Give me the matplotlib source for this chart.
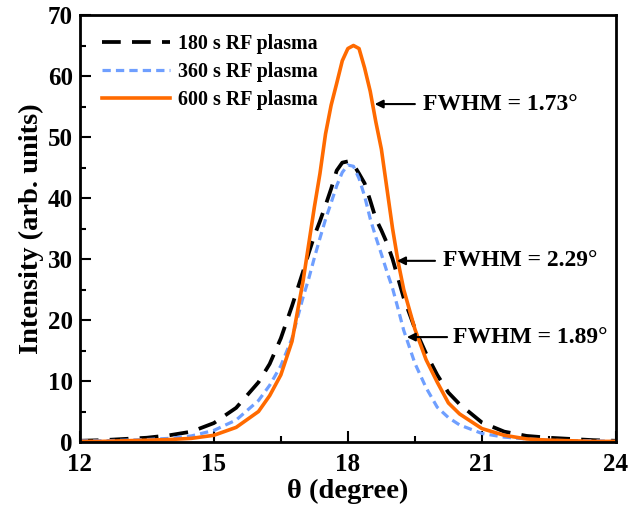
import numpy as np
import matplotlib
matplotlib.use("Agg")
import matplotlib.pyplot as plt
from matplotlib.ticker import MultipleLocator

# values
theta = [12.0, 12.5, 13.0, 13.5, 14.0, 14.5, 15.0, 15.5, 16.0, 16.25, 16.5, 16.75,
         17.0, 17.125, 17.25, 17.375, 17.5, 17.625, 17.75, 17.875, 18.0, 18.125,
         18.25, 18.375, 18.5, 18.625, 18.75, 18.875, 19.0, 19.125, 19.25, 19.5,
         19.75, 20.0, 20.25, 20.5, 21.0, 21.5, 22.0, 22.5, 23.0, 23.5, 24.0]

i_180s = [0.2, 0.3, 0.5, 0.7, 1.1, 1.7, 3.1, 5.6, 9.8, 12.8, 17.0, 22.3,
          28.0, 31.0, 33.8, 36.2, 38.8, 41.5, 44.5, 45.8, 46.0, 45.5,
          44.0, 42.4, 39.6, 36.6, 34.7, 32.6, 30.0, 26.8, 23.6, 18.6,
          14.5, 11.0, 8.1, 6.2, 3.2, 1.7, 1.0, 0.7, 0.5, 0.3, 0.2]

i_360s = [0.2, 0.2, 0.3, 0.4, 0.6, 1.0, 1.9, 3.6, 6.8, 9.3, 12.5, 17.0,
          23.8, 26.8, 30.2, 33.4, 36.5, 39.2, 42.0, 44.2, 45.4, 45.2,
          43.2, 40.3, 36.6, 33.6, 30.8, 27.9, 25.2, 21.8, 18.3, 12.9,
          8.9, 5.7, 4.0, 2.8, 1.4, 0.8, 0.5, 0.3, 0.2, 0.2, 0.1]

i_600s = [0.1, 0.1, 0.2, 0.3, 0.4, 0.6, 1.1, 2.4, 5.0, 7.6, 11.0, 16.5,
          26.5, 32.5, 38.5, 44.0, 50.5, 55.2, 58.8, 62.5, 64.5, 65.0,
          64.5, 61.3, 57.5, 52.5, 48.0, 41.5, 35.0, 29.5, 25.0, 18.5,
          13.5, 9.8, 6.4, 4.6, 2.2, 1.1, 0.5, 0.3, 0.2, 0.1, 0.1]

labels = ["180 s RF plasma", "360 s RF plasma", "600 s RF plasma"]
fwhm_text = ["FWHM = 1.73°", "FWHM = 2.29°", "FWHM = 1.89°"]
# arrow tip (x, y), arrow tail x, text x
fwhm_tip = [(18.60, 55.4), (19.10, 29.7), (19.32, 17.2)]
fwhm_tail = [19.50, 19.95, 20.22]
fwhm_tx = [19.68, 20.13, 20.35]

plt.rcParams['font.family'] = ['Liberation Serif', 'DejaVu Serif']
plt.rcParams['font.weight'] = 'bold'

fig = plt.figure(figsize=(6.38, 5.12), dpi=100)
ax = fig.add_axes([0.125, 0.1367, 0.8405, 0.834])

ax.plot(theta, i_180s, color='black', lw=2.7, dashes=(5, 3), label=labels[0])
ax.plot(theta, i_360s, color='#6f9fff', lw=2.3, dashes=(2.6, 1.6), label=labels[1])
ax.plot(theta, i_600s, color='#ff6a00', lw=2.6, label=labels[2])

for txt, tip, tail, tx in zip(fwhm_text, fwhm_tip, fwhm_tail, fwhm_tx):
    ax.annotate('', xy=tip, xytext=(tail, tip[1]),
                arrowprops=dict(arrowstyle='-|>', color='black', lw=1.5,
                                mutation_scale=12, shrinkA=0, shrinkB=0))
    ax.text(tx, tip[1], txt, fontsize=17, fontweight='bold', va='center', ha='left')

ax.set_xlim(12, 24)
ax.set_ylim(0, 70)
ax.xaxis.set_major_locator(MultipleLocator(3))
ax.xaxis.set_minor_locator(MultipleLocator(1.5))
ax.yaxis.set_major_locator(MultipleLocator(10))
ax.yaxis.set_minor_locator(MultipleLocator(5))
ax.tick_params(which='both', direction='in', top=False, right=False, width=1.5,
               labelsize=18)
ax.tick_params(which='major', length=8)
ax.tick_params(which='minor', length=4.5)
ax.tick_params(axis='x', which='major', pad=8)
ax.tick_params(axis='y', which='major', pad=5)
for s in ax.spines.values():
    s.set_linewidth(2)

ax.set_xlabel('θ (degree)', fontsize=20.5, fontweight='bold', labelpad=2)
ax.set_ylabel('Intensity (arb. units)', fontsize=20.5, fontweight='bold', labelpad=3)

leg = ax.legend(loc='upper left', bbox_to_anchor=(0.015, 0.989), frameon=False,
                fontsize=14.4, handlelength=3.4, borderaxespad=0.3,
                labelspacing=0.4, handletextpad=0.4)
for t in leg.get_texts():
    t.set_fontweight('bold')

fig.savefig('out.png', dpi=100)
